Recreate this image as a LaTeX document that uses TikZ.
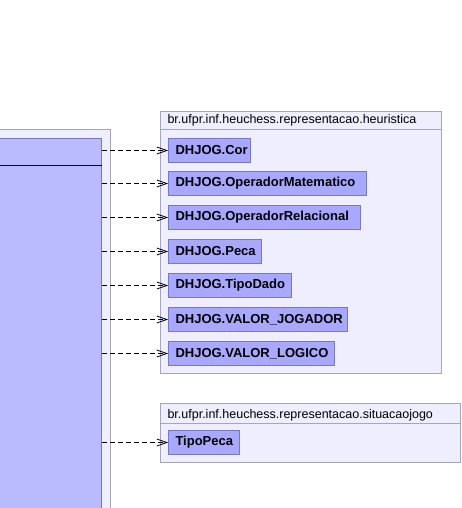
\documentclass[tikz,border=0pt]{standalone}
\usepackage{fontspec}
\setmainfont{Liberation Sans}
\usetikzlibrary{arrows.meta}
\definecolor{pkgfill}{RGB}{238,238,255}
\definecolor{pkgline}{RGB}{165,165,190}
\definecolor{clsfill}{RGB}{168,168,255}
\definecolor{clsline}{RGB}{120,120,190}
\definecolor{leftfill}{RGB}{186,186,255}

\begin{document}
\begin{tikzpicture}[x=1pt,y=-1pt,line width=1pt,
  pkg/.style={draw=pkgline,fill=pkgfill},
  pkgname/.style={anchor=base west,inner sep=0pt,font=\fontsize{12.5}{14}\selectfont},
  cbox/.style={draw=clsline,fill=clsfill,anchor=north west,minimum height=24pt,
    inner xsep=7pt,inner ysep=0pt,align=left,
    font=\fontsize{13}{15}\selectfont\bfseries},
  dep/.style={dash pattern=on 5pt off 3pt,line width=0.8pt,-{Straight Barb[length=10pt,width=7pt,line width=0.8pt]}}]
\useasboundingbox (0,0) rectangle (462,508);
\clip (0,0) rectangle (462,508);
% left package and class
\draw[pkg] (-10,129) rectangle (110,520);
\node[draw=clsline,fill=leftfill,anchor=north east,minimum width=120pt,minimum height=390pt,inner sep=0pt] (origem) at (102,138) {};
\draw[black] (-10,165) -- (102,165);
% heuristica
\draw[pkg] (160,112) rectangle (441,373);
\draw[pkgline] (160,129) -- (441,129);
\node[pkgname] (heur) at (167,124) {br.ufpr.inf.heuchess.representacao.heuristica};
\node[cbox,text width=68pt] (cor) at (168,138) {DHJOG.Cor};
\node[cbox,text width=184pt] (opmat) at (168,171) {DHJOG.OperadorMatematico};
\node[cbox,text width=178pt] (oprel) at (168,205) {DHJOG.OperadorRelacional};
\node[cbox,text width=79pt] (peca) at (168,239) {DHJOG.Peca};
\node[cbox,text width=109pt] (tipodado) at (168,273) {DHJOG.TipoDado};
\node[cbox,text width=165pt] (vjog) at (168,307) {DHJOG.VALOR\_JOGADOR};
\node[cbox,text width=152pt] (vlog) at (168,341) {DHJOG.VALOR\_LOGICO};
% situacaojogo
\draw[pkg] (160,403) rectangle (460,462);
\draw[pkgline] (160,423) -- (460,423);
\node[pkgname] (sit) at (167,418) {br.ufpr.inf.heuchess.representacao.situacaojogo};
\node[cbox,text width=57pt] (tipopeca) at (168,430) {TipoPeca};
% dependencies
\foreach \n in {cor,opmat,oprel,peca,tipodado,vjog,vlog,tipopeca}
  \draw[dep] (origem.east |- \n.west) -- (\n.west);
\end{tikzpicture}
\end{document}
